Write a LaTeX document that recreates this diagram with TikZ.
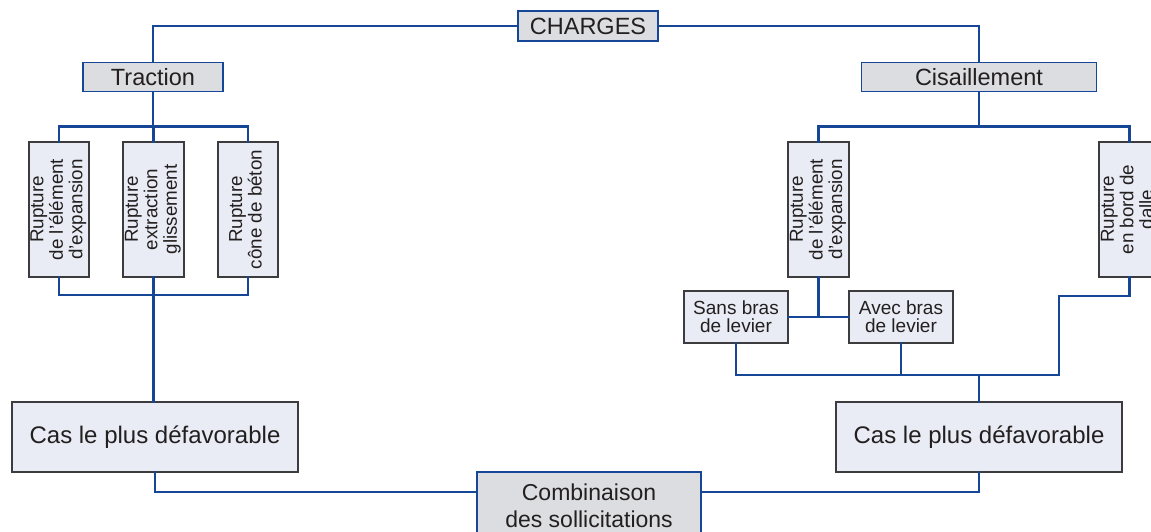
\documentclass[tikz,border=0pt]{standalone}
\usepackage{fontspec}
\setmainfont{Liberation Sans}
\definecolor{lineblue}{RGB}{22,70,150}
\definecolor{hdrfill}{RGB}{220,221,224}
\definecolor{boxfill}{RGB}{233,236,244}
\definecolor{boxline}{RGB}{60,60,62}
\definecolor{txt}{RGB}{35,31,32}
\tikzset{
  conn/.style={draw=lineblue, line width=2.9pt, line cap=rect},
  hdr/.style={draw=lineblue, line width=1.2pt, fill=hdrfill, inner sep=0pt, text=txt, align=center, font=\fontsize{23.5}{27}\selectfont},
  lowbox/.style={draw=boxline, line width=1.4pt, fill=boxfill, inner sep=0pt, text=txt, align=center},
  vtext/.style={lowbox, font=\fontsize{18.8}{19.5}\selectfont},
  smalltext/.style={lowbox, font=\fontsize{19}{18}\selectfont},
  bigtext/.style={lowbox, font=\fontsize{24}{27}\selectfont}
}
\newcommand{\vlab}[1]{\rotatebox{90}{\begin{tabular}{@{}c@{}}#1\end{tabular}}}
\begin{document}
\begin{tikzpicture}[x=1pt,y=-1pt]
\useasboundingbox (0,0) rectangle (1151,532);
\clip (0,0) rectangle (1151,532);
% header nodes
\node[hdr, minimum width=140pt, minimum height=30pt] (charges) at (588,26) {CHARGES};
\node[hdr, minimum width=140pt, minimum height=29pt] (traction) at (153,77) {Traction};
\node[hdr, minimum width=235pt, minimum height=29pt] (cis) at (979,77) {Cisaillement};
% traction branch
\node[vtext, minimum width=60pt, minimum height=135pt] (r1) at (59,209.5) {\vlab{Rupture\\de l'élément\\d'expansion}};
\node[vtext, minimum width=61pt, minimum height=135pt] (r2) at (153.5,209.5) {\vlab{Rupture\\extraction\\glissement}};
\node[vtext, minimum width=60pt, minimum height=135pt] (r3) at (248,209.5) {\vlab{Rupture\\cône de béton}};
% shear branch
\node[vtext, minimum width=61pt, minimum height=135pt] (rr1) at (818.5,209.5) {\vlab{Rupture\\de l'élément\\d'expansion}};
\node[vtext, minimum width=61pt, minimum height=135pt] (rr2) at (1129.5,209.5) {\vlab{Rupture\\en bord de\\dalle}};
\node[smalltext, minimum width=104pt, minimum height=52pt] (sans) at (736,317) {Sans bras\\de levier};
\node[smalltext, minimum width=104pt, minimum height=52pt] (avec) at (901,317) {Avec bras\\de levier};
% results
\node[bigtext, minimum width=286pt, minimum height=70pt] (casL) at (155,437) {Cas le plus défavorable};
\node[bigtext, minimum width=286pt, minimum height=70pt] (casR) at (979,437) {Cas le plus défavorable};
\node[hdr, minimum width=224pt, minimum height=74pt, font=\fontsize{23}{27}\selectfont] (comb) at (589,509) {\raisebox{4pt}{\begin{tabular}{@{}c@{}}Combinaison\\des sollicitations\end{tabular}}};
% coordinates
\coordinate (tbus) at (153,126.5);
\coordinate (tbus2) at (153,295);
\coordinate (cbus) at (979,126.5);
\coordinate (lbus) at (979,375);
\coordinate (jog) at (1059,296);
\coordinate (combline) at (589,492);
% connectors
\draw[conn] (charges.west) -| (traction.north);
\draw[conn] (charges.east) -| (cis.north);
\draw[conn] (traction.south) -- (tbus);
\draw[conn] (r1.north) |- (tbus);
\draw[conn] (r3.north) |- (tbus);
\draw[conn] (r2.north) -- (r2.north |- tbus);
\draw[conn] (r1.south) -- (r1.south |- tbus2) -- (r3.south |- tbus2) -- (r3.south);
\draw[conn] (r2.south) -- (r2.south |- casL.north);
\draw[conn] (cis.south) -- (cbus);
\draw[conn] (rr1.north) |- (cbus);
\draw[conn] (rr2.north) |- (cbus);
\draw[conn] (rr1.south) -- (rr1.south |- sans.east);
\draw[conn] (sans.east) -- (avec.west);
\draw[conn] (sans.south) -- (sans.south |- lbus) -- (jog |- lbus) -- (jog) -- (rr2.south |- jog) -- (rr2.south);
\draw[conn] (avec.south) -- (avec.south |- lbus);
\draw[conn] (lbus) -- (casR.north);
\draw[conn] (casL.south) |- (comb.west |- combline);
\draw[conn] (casR.south) |- (comb.east |- combline);
\end{tikzpicture}
\end{document}
